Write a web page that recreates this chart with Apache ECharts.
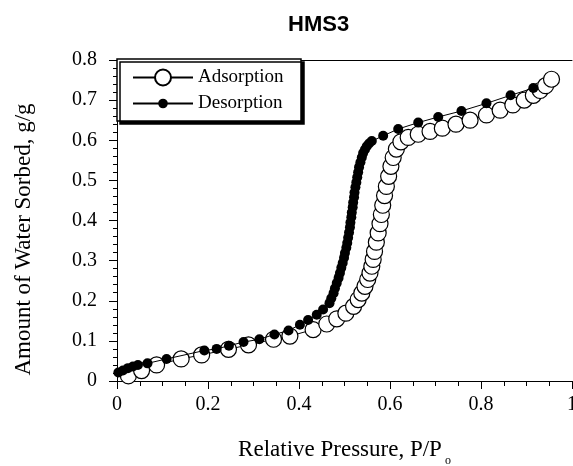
<!DOCTYPE html>
<html>
<head>
<meta charset="utf-8">
<script src="https://cdn.jsdelivr.net/npm/echarts@6/dist/echarts.min.js"></script>
<style>
  html, body { margin: 0; padding: 0; background: #fff; }
  #chart { width: 573px; height: 466px; }
</style>
</head>
<body>
<div id="chart"></div>
<script>
// Water sorption isotherm of HMS3: relative pressure vs. amount sorbed (g/g)
const adsorptionP = [0.025,0.054,0.087,0.141,0.186,0.245,0.289,0.344,0.380,0.431,0.461,0.483,0.503,0.520,0.530,0.538,0.545,0.551,0.556,0.560,0.563,0.566,0.570,0.574,0.578,0.581,0.584,0.588,0.592,0.597,0.602,0.607,0.614,0.624,0.640,0.662,0.688,0.715,0.745,0.776,0.812,0.842,0.870,0.895,0.915,0.930,0.942,0.955];
const adsorptionW = [0.013,0.026,0.040,0.055,0.065,0.079,0.090,0.104,0.112,0.128,0.142,0.155,0.169,0.186,0.203,0.219,0.236,0.253,0.269,0.286,0.303,0.323,0.346,0.369,0.392,0.415,0.438,0.462,0.485,0.510,0.535,0.557,0.578,0.596,0.607,0.615,0.622,0.630,0.640,0.650,0.663,0.675,0.688,0.700,0.712,0.724,0.736,0.752];

const desorptionP = [0.003,0.013,0.024,0.035,0.046,0.067,0.109,0.192,0.219,0.246,0.278,0.313,0.346,0.377,0.402,0.420,0.439,0.453,0.467,0.471,0.476,0.479,0.483,0.487,0.490,0.493,0.496,0.499,0.501,0.504,0.506,0.508,0.510,0.512,0.513,0.515,0.516,0.518,0.519,0.521,0.522,0.524,0.526,0.528,0.530,0.532,0.535,0.538,0.541,0.545,0.549,0.554,0.560,0.585,0.618,0.662,0.706,0.757,0.812,0.865,0.915];
const desorptionW = [0.021,0.026,0.032,0.036,0.040,0.044,0.055,0.076,0.080,0.088,0.097,0.104,0.116,0.126,0.140,0.152,0.165,0.178,0.194,0.206,0.219,0.231,0.244,0.257,0.269,0.282,0.294,0.307,0.319,0.332,0.344,0.357,0.370,0.383,0.395,0.408,0.420,0.433,0.445,0.458,0.470,0.483,0.495,0.508,0.520,0.533,0.545,0.557,0.568,0.577,0.585,0.592,0.598,0.611,0.628,0.644,0.658,0.673,0.692,0.712,0.730];

const xTicks = [0, 0.2, 0.4, 0.6, 0.8, 1];
const yTicks = [0, 0.1, 0.2, 0.3, 0.4, 0.5, 0.6, 0.7, 0.8];
const seriesNames = ['Adsorption', 'Desorption'];

const pairs = (xs, ys) => xs.map((x, i) => [x, ys[i]]);
const serif = '"Liberation Serif", "Times New Roman", serif';
const fmt = v => (v === 0 ? '0' : (Number.isInteger(v) ? String(v) : v.toFixed(1)));

const chart = echarts.init(document.getElementById('chart'), null, { renderer: 'canvas' });

chart.setOption({
  animation: false,
  backgroundColor: '#fff',
  title: {
    text: 'HMS3',
    left: 283,
    top: 9,
    textStyle: { fontFamily: '"Liberation Sans", Arial, sans-serif', fontWeight: 'bold', fontSize: 22, color: '#000' }
  },
  grid: { left: 117, right: 1, top: 60, bottom: 85, outerBoundsMode: 'none', containLabel: false },
  graphic: [{
    type: 'rect',
    z: 1,
    shape: { x: 117, y: 59, width: 184, height: 62 },
    style: { fill: '#fff', stroke: '#000', lineWidth: 1.5, shadowColor: '#000', shadowOffsetX: 3, shadowOffsetY: 3, shadowBlur: 0 }
  }],
  legend: [
    {
      data: [seriesNames[0]], left: 132, top: 68, padding: 0, z: 5,
      itemWidth: 60, itemHeight: 20,
      textStyle: { fontFamily: serif, fontSize: 19, color: '#000' }
    },
    {
      data: [seriesNames[1]], left: 132, top: 94, padding: 0, z: 5,
      itemWidth: 60, itemHeight: 12,
      textStyle: { fontFamily: serif, fontSize: 19, color: '#000' }
    }
  ],
  xAxis: [
    {
      type: 'value', min: 0, max: 1, interval: 0.2,
      name: 'Relative Pressure, P/P{sub|o}',
      nameLocation: 'middle', nameGap: 52,
      nameTextStyle: {
        fontFamily: serif, fontSize: 23, color: '#000',
        rich: { sub: { fontFamily: serif, fontSize: 12, color: '#000', padding: [22, 0, 0, 3] } }
      },
      axisLine: { show: true, lineStyle: { color: '#000', width: 1 } },
      axisTick: { show: true, length: 8, lineStyle: { color: '#000' } },
      minorTick: { show: true, splitNumber: 4, length: 5, lineStyle: { color: '#000' } },
      splitLine: { show: false },
      axisLabel: {
        margin: 14, fontFamily: serif, fontSize: 20, color: '#000',
        formatter: v => (xTicks.includes(+v.toFixed(2)) ? fmt(v) : '')
      }
    },
    {
      type: 'value', position: 'top', min: 0, max: 1,
      axisLine: { show: true, onZero: false, lineStyle: { color: '#000', width: 1 } },
      axisTick: { show: false }, axisLabel: { show: false }, splitLine: { show: false }
    }
  ],
  yAxis: {
    type: 'value', min: 0, max: 0.8, interval: 0.1,
    name: 'Amount of Water Sorbed, g/g',
    nameLocation: 'middle', nameGap: 82,
    nameTextStyle: { fontFamily: serif, fontSize: 23, color: '#000', padding: [0, 38, 0, 0] },
    axisLine: { show: true, lineStyle: { color: '#000', width: 1 } },
    axisTick: { show: true, length: 8, lineStyle: { color: '#000' } },
    minorTick: { show: true, splitNumber: 5, length: 4, lineStyle: { color: '#000' } },
    splitLine: { show: false },
    axisLabel: {
      margin: 20, fontFamily: serif, fontSize: 20, color: '#000',
      formatter: v => (yTicks.includes(+v.toFixed(2)) ? fmt(v) : '')
    }
  },
  series: [
    {
      name: seriesNames[0],
      type: 'line',
      data: pairs(adsorptionP, adsorptionW),
      symbol: 'circle', symbolSize: 16,
      z: 2,
      lineStyle: { color: '#000', width: 1 },
      itemStyle: { color: '#fff', borderColor: '#000', borderWidth: 1.2 }
    },
    {
      name: seriesNames[1],
      type: 'line',
      data: pairs(desorptionP, desorptionW),
      symbol: 'circle', symbolSize: 10,
      z: 3,
      lineStyle: { color: '#000', width: 1 },
      itemStyle: { color: '#000', borderColor: '#000', borderWidth: 0 }
    }
  ]
});
</script>
</body>
</html>
